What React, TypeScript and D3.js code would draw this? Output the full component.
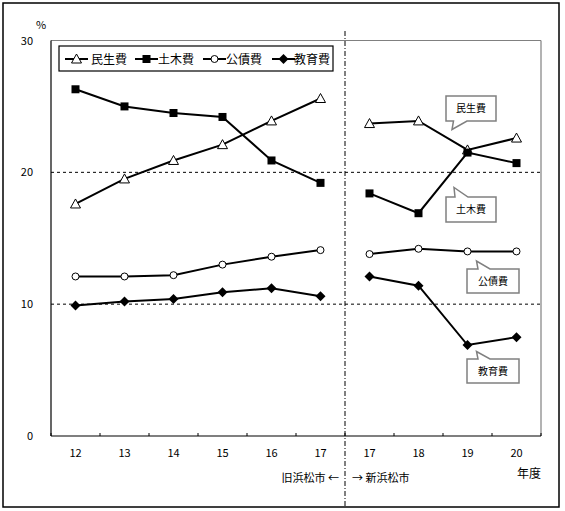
import React from "react";
import * as d3 from "d3";

const categories = ["12", "13", "14", "15", "16", "17", "17", "18", "19", "20"];
const yTicks = [0, 10, 20, 30];
const seriesNames = ["民生費", "土木費", "公債費", "教育費"];
const minsei = [17.6, 19.5, 20.9, 22.1, 23.9, 25.6, 23.7, 23.9, 21.7, 22.6];
const doboku = [26.3, 25.0, 24.5, 24.2, 20.9, 19.2, 18.4, 16.9, 21.5, 20.7];
const kousai = [12.1, 12.1, 12.2, 13.0, 13.6, 14.1, 13.8, 14.2, 14.0, 14.0];
const kyouiku = [9.9, 10.2, 10.4, 10.9, 11.2, 10.6, 12.1, 11.4, 6.9, 7.5];
const seriesMarkers = ["triangle", "square", "circle", "diamond"];
const oldCount = 6;

const FONT = "'Noto Sans CJK JP', 'DejaVu Sans', sans-serif";

function Marker({ type, x, y }: { type: string; x: number; y: number }) {
  if (type === "triangle")
    return (
      <path
        d={`M${x},${y - 5} L${x + 5},${y + 4} L${x - 5},${y + 4} Z`}
        fill="#fff"
        stroke="#000"
        strokeWidth={1}
      />
    );
  if (type === "square")
    return <rect x={x - 4} y={y - 4} width={8} height={8} fill="#000" />;
  if (type === "circle")
    return <circle cx={x} cy={y} r={3.5} fill="#fff" stroke="#000" strokeWidth={1} />;
  return (
    <path
      d={`M${x},${y - 5} L${x + 5},${y} L${x},${y + 5} L${x - 5},${y} Z`}
      fill="#000"
    />
  );
}

export default function App() {
  const W = 565;
  const H = 511;
  const left = 51;
  const right = 541;
  const top = 40.5;
  const bottom = 436;
  const x = d3
    .scaleBand<number>()
    .domain(d3.range(categories.length))
    .range([left, right])
    .padding(0);
  const y = d3.scaleLinear().domain([0, 30]).range([bottom, top]);
  const cx = (i: number) => (x(i) as number) + x.bandwidth() / 2;
  const divX = x(oldCount) as number;
  const allSeries = [minsei, doboku, kousai, kyouiku];
  const line = d3
    .line<[number, number]>()
    .x((d) => cx(d[0]))
    .y((d) => y(d[1]));

  const legendItems = [
    { x0: 65, tx: 91 },
    { x0: 135, tx: 158 },
    { x0: 203, tx: 226 },
    { x0: 272, tx: 294 },
  ];

  const callouts = [
    {
      text: "民生費",
      d: "M446,96 H496 V121 H467 L452,129.5 L453.5,121 H446 Z",
      tx: 471,
      ty: 108.5,
    },
    {
      text: "土木費",
      d: "M446,197 H455 L454,187.5 L468,197 H496 V222 H446 Z",
      tx: 471,
      ty: 209.5,
    },
    {
      text: "公債費",
      d: "M467,269 H478 L476.5,261 L490,269 H519 V293 H467 Z",
      tx: 493,
      ty: 281,
    },
    {
      text: "教育費",
      d: "M467,359 H478 L476.5,351.5 L490,359 H519 V383 H467 Z",
      tx: 493,
      ty: 371,
    },
  ];

  return (
    <svg
      width={W}
      height={H}
      style={{ position: "absolute", left: 0, top: 0, fontFamily: FONT }}
    >
      <rect x={0} y={0} width={W} height={H} fill="#fff" />
      <rect x={3} y={3} width={556} height={504} fill="none" stroke="#000" strokeWidth={1.5} />

      {/* plot border (gray top & right) */}
      <line x1={left} x2={right} y1={top} y2={top} stroke="#808080" strokeWidth={1.2} />
      <line x1={right} x2={right} y1={top} y2={bottom} stroke="#808080" strokeWidth={1.2} />

      {/* gridlines */}
      {[10, 20].map((v) => (
        <line
          key={v}
          x1={left}
          x2={right}
          y1={y(v)}
          y2={y(v)}
          stroke="#000"
          strokeWidth={1}
          strokeDasharray="3,3"
        />
      ))}

      {/* axes */}
      <line x1={left} x2={left} y1={top} y2={bottom} stroke="#000" strokeWidth={1.2} />
      <line x1={left} x2={right} y1={bottom} y2={bottom} stroke="#000" strokeWidth={1.2} />
      {d3.range(categories.length + 1).map((i) => {
        const tx = i < categories.length ? (x(i) as number) : right;
        return <line key={i} x1={tx} x2={tx} y1={bottom} y2={bottom - 3} stroke="#000" strokeWidth={1} />;
      })}

      {/* y tick labels */}
      {yTicks.map((v) => (
        <text key={v} x={33} y={y(v) + 4} textAnchor="end" fontSize={11} fill="#000">
          {v}
        </text>
      ))}
      <text x={41} y={28.5} textAnchor="middle" fontSize={11} fill="#000">
        %
      </text>

      {/* x tick labels */}
      {categories.map((c, i) => (
        <text key={i} x={cx(i)} y={457} textAnchor="middle" fontSize={11} fill="#000">
          {c}
        </text>
      ))}

      {/* divider */}
      <line
        x1={divX}
        x2={divX}
        y1={31}
        y2={507}
        stroke="#000"
        strokeWidth={1}
        strokeDasharray="5,2,1,2"
      />

      {/* series */}
      {allSeries.map((vals, si) => {
        const pts: [number, number][] = vals.map((v, i) => [i, v]);
        const oldPts = pts.slice(0, oldCount);
        const newPts = pts.slice(oldCount);
        return (
          <g key={si}>
            <path d={line(oldPts) || ""} fill="none" stroke="#000" strokeWidth={2} />
            <path d={line(newPts) || ""} fill="none" stroke="#000" strokeWidth={2} />
            {pts.map((p) => (
              <Marker key={p[0]} type={seriesMarkers[si]} x={cx(p[0])} y={y(p[1])} />
            ))}
          </g>
        );
      })}

      {/* legend */}
      <rect x={59} y={46} width={274} height={25} fill="#fff" stroke="#000" strokeWidth={1.2} />
      {seriesNames.map((n, i) => {
        const it = legendItems[i];
        return (
          <g key={n}>
            <line x1={it.x0} x2={it.x0 + 23} y1={59} y2={59} stroke="#000" strokeWidth={2} />
            <Marker type={seriesMarkers[i]} x={it.x0 + 11.5} y={59} />
            <text x={it.tx} y={63.5} fontSize={12} fill="#000">
              {n}
            </text>
          </g>
        );
      })}

      {/* callouts */}
      {callouts.map((c) => (
        <g key={c.text}>
          <path d={c.d} fill="#fff" stroke="#808080" strokeWidth={1.5} />
          <text x={c.tx} y={c.ty + 3.5} textAnchor="middle" fontSize={10} fill="#000">
            {c.text}
          </text>
        </g>
      ))}

      {/* bottom labels */}
      <text x={339} y={482} textAnchor="end" fontSize={11} fill="#000">
        旧浜松市 ←
      </text>
      <text x={352} y={482} textAnchor="start" fontSize={11} fill="#000">
        → 新浜松市
      </text>
      <text x={541} y={478} textAnchor="end" fontSize={12} fill="#000">
        年度
      </text>
    </svg>
  );
}
